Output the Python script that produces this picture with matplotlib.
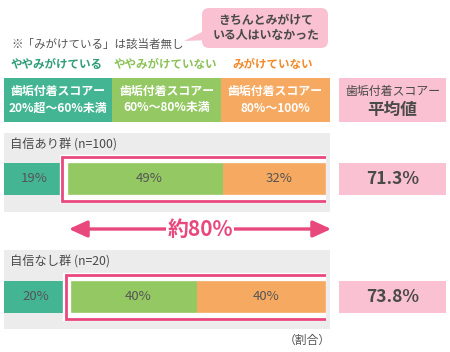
import matplotlib
matplotlib.use("Agg")
import matplotlib.pyplot as plt
from matplotlib.patches import Rectangle, FancyBboxPatch, Polygon, FancyArrowPatch

plt.rcParams['font.family'] = ['Noto Sans CJK JP', 'DejaVu Sans']

# ---- data ----
groups = ["自信あり群 (n=100)", "自信なし群 (n=20)"]
somewhat_brushed = [19, 20]      # ややみがけている
somewhat_not = [49, 40]          # ややみがけていない
not_brushed = [32, 40]           # みがけていない
avg_score = ["71.3%", "73.8%"]
legend_labels = ["ややみがけている", "ややみがけていない", "みがけていない"]
header_labels = ["歯垢付着スコアー\n20%超～60%未満", "歯垢付着スコアー\n60%～80%未満", "歯垢付着スコアー\n80%～100%"]
avg_header = ["歯垢付着スコアー", "平均値"]
note = "※「みがけている」は該当者無し"
bubble = "きちんとみがけて\nいる人はいなかった"
arrow_label = "約80%"
unit_label = "（割合）"

# ---- styles ----
c_teal = "#43b592"
c_green = "#93c862"
c_orange = "#f6a960"
c_pink = "#f9c1d2"
c_pinkline = "#e9487d"
c_gray = "#ececec"
c_text = "#4a4a4a"
leg_colors = ["#2f9e78", "#8cc258", "#f28a2a"]

W, H = 450, 352
fig = plt.figure(figsize=(W / 100, H / 100), dpi=100)
ax = fig.add_axes([0, 0, 1, 1])
ax.set_xlim(0, W)
ax.set_ylim(H, 0)
ax.axis("off")

# bar axes: x in percent, y in pixel rows
bx0, bx1 = 4, 326
axb = fig.add_axes([bx0 / W, 0, (bx1 - bx0) / W, 1])
axb.set_xlim(0, 100)
axb.set_ylim(H, 0)
axb.axis("off")
pxp = (bx1 - bx0) / 100.0  # pixels per percent

# note and bubble
ax.text(11, 44, note, fontsize=8.3, color="#555555", va="center", ha="left")
ax.add_patch(Polygon([[206, 30], [184, 41], [212, 40]], closed=True, fc=c_pink, ec="none"))
ax.add_patch(FancyBboxPatch((202, 8), 126, 40, boxstyle="round,pad=0,rounding_size=7",
                            fc=c_pink, ec="none"))
ax.text(266, 28, bubble, fontsize=8.6, fontweight="bold", color=c_text, ha="center",
        va="center", linespacing=1.25)

# legend labels
for x, lab, col in zip([11, 114, 232], legend_labels, leg_colors):
    ax.text(x, 64, lab, fontsize=8.3, fontweight="bold", color=col, va="center", ha="left")

# header boxes
hx = [4, 112, 221, 330]
for i, (lab, col) in enumerate(zip(header_labels, [c_teal, c_green, c_orange])):
    ax.add_patch(Rectangle((hx[i], 78), hx[i + 1] - hx[i], 44, fc=col, ec="none"))
    ax.text((hx[i] + hx[i + 1]) / 2, 100, lab, fontsize=8.6, fontweight="bold", color="white",
            ha="center", va="center", linespacing=1.3)
ax.add_patch(Rectangle((339, 78), 107, 44, fc=c_pink, ec="none"))
ax.text(392.5, 91, avg_header[0], fontsize=8.6, color=c_text, ha="center", va="center")
ax.text(392.5, 110, avg_header[1], fontsize=12, fontweight="bold", color=c_text,
        ha="center", va="center")

# groups
panel_top = [133, 250]
bar_center = [179, 296.5]
bar_h = 32
for gi in range(len(groups)):
    pt = panel_top[gi]
    ax.add_patch(Rectangle((4, pt), 326, 79, fc=c_gray, ec="none"))
    ax.text(10, pt + 12, groups[gi], fontsize=8.8, color=c_text, va="center", ha="left")
    lefts = [0, somewhat_brushed[gi], somewhat_brushed[gi] + somewhat_not[gi]]
    vals = [somewhat_brushed[gi], somewhat_not[gi], not_brushed[gi]]
    cols = [c_teal, c_green, c_orange]
    axb.barh([bar_center[gi]] * 3, vals, left=lefts, height=bar_h, color=cols, edgecolor="none")
    # highlight box around green + orange
    pad = 5 / pxp
    x0 = somewhat_brushed[gi] - pad * 0.3
    axb.add_patch(Rectangle((x0, bar_center[gi] - bar_h / 2 - 4), 100 + 1.2 - x0, bar_h + 8,
                            fc="none", ec="white", lw=6, zorder=3))
    axb.add_patch(Rectangle((x0 - 0.4, bar_center[gi] - bar_h / 2 - 6), 100 + 1.7 - x0 + 0.4,
                            bar_h + 12, fc="none", ec=c_pinkline, lw=2, zorder=4))
    for l, v in zip(lefts, vals):
        axb.text(l + v / 2 + (1.5 if l > 0 else 0), bar_center[gi], f"{v}%", fontsize=9.5,
                 color="#555555", ha="center", va="center", zorder=5)
    ax.add_patch(Rectangle((339, bar_center[gi] - bar_h / 2), 107, bar_h, fc=c_pink, ec="none"))
    ax.text(392.5, bar_center[gi], avg_score[gi], fontsize=12.5, fontweight="bold",
            color=c_text, ha="center", va="center")

# arrow
ax.add_patch(FancyArrowPatch((66, 229), (334, 229), arrowstyle="<|-|>,head_length=11,head_width=5",
                             color=c_pinkline, lw=2.4, mutation_scale=1))
ax.text(200, 229, arrow_label, fontsize=15, fontweight="bold", color=c_pinkline, ha="center",
        va="center", bbox=dict(fc="white", ec="none", pad=1))

ax.text(331, 340, unit_label, fontsize=8.5, color="#555555", ha="right", va="center")

fig.savefig("out.png", dpi=100)
